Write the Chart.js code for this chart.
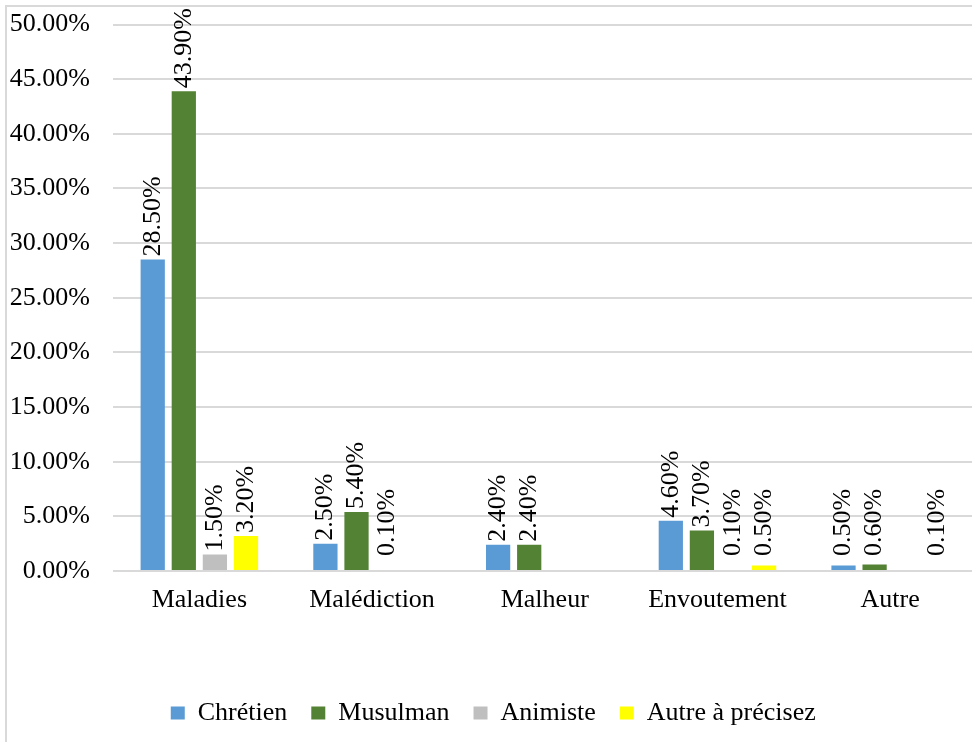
<!DOCTYPE html>
<html>
<head>
<meta charset="utf-8">
<script src="https://cdn.jsdelivr.net/npm/chart.js@4.4.0/dist/chart.umd.min.js"></script>
<style>
    html, body { margin: 0; padding: 0; background: #fff; overflow: hidden; }
    .frame { position: absolute; left: 5px; top: 5px; width: 990px; height: 760px; border-left: 2px solid #d9d9d9; border-top: 2px solid #d9d9d9; }
    canvas { position: absolute; left: 0; top: 0; }
</style>
</head>
<body>
<div class="frame"></div>
<canvas id="myChart" width="980" height="742"></canvas>
<script>
let categories = ['Maladies', 'Malédiction', 'Malheur', 'Envoutement', 'Autre']
let seriesNames = ['Chrétien', 'Musulman', 'Animiste', 'Autre à précisez']
let chretien = [28.5, 2.5, 2.4, 4.6, 0.5]
let musulman = [43.9, 5.4, 2.4, 3.7, 0.6]
let animiste = [1.5, 0.1, null, 0.1, null]
let autrePrecisez = [3.2, null, null, 0.5, 0.1]
let yMin = 0
let yMax = 50
let yStep = 5

let colors = ['#5b9bd5', '#548235', '#bfbfbf', '#ffff00']
let serif = '"Liberation Serif", "Times New Roman", serif'

Chart.defaults.font.family = serif
Chart.defaults.font.size = 26
Chart.defaults.color = '#000'

function pct(v) {
    return Number(v).toFixed(2) + '%'
}

// rotated value labels above each bar
const barLabels = {
    id: 'barLabels',
    afterDatasetsDraw(chart) {
        const ctx = chart.ctx
        ctx.save()
        ctx.font = '26px ' + serif
        ctx.fillStyle = '#000'
        ctx.textAlign = 'left'
        ctx.textBaseline = 'middle'
        chart.data.datasets.forEach((ds, i) => {
            const meta = chart.getDatasetMeta(i)
            meta.data.forEach((bar, j) => {
                const v = ds.data[j]
                if (v === null || v === undefined) return
                let y = Math.min(bar.y - 3, chart.chartArea.bottom - 15)
                ctx.save()
                ctx.translate(bar.x, y)
                ctx.rotate(-Math.PI / 2)
                ctx.fillText(pct(v), 0, 0)
                ctx.restore()
            })
        })
        ctx.restore()
    }
}

let ctx = document.getElementById('myChart').getContext('2d')
let myChart = new Chart(ctx, {
    type: 'bar',
    data: {
        labels: categories,
        datasets: [
            { label: seriesNames[0], data: chretien, backgroundColor: colors[0] },
            { label: seriesNames[1], data: musulman, backgroundColor: colors[1] },
            { label: seriesNames[2], data: animiste, backgroundColor: colors[2] },
            { label: seriesNames[3], data: autrePrecisez, backgroundColor: colors[3] }
        ]
    },
    options: {
        responsive: false,
        animation: false,
        categoryPercentage: 0.72,
        barPercentage: 0.78,
        layout: {
            padding: { left: 10, right: 3.5, top: 24.5, bottom: 6 }
        },
        plugins: {
            legend: {
                position: 'bottom',
                labels: {
                    boxWidth: 14,
                    boxHeight: 13,
                    padding: 24,
                    color: '#000',
                    font: { size: 26 }
                }
            },
            tooltip: { enabled: false }
        },
        scales: {
            x: {
                grid: { display: false },
                border: { display: false },
                ticks: { padding: 6, color: '#000' },
                afterFit(scale) {
                    scale.height = 105
                }
            },
            y: {
                min: yMin,
                max: yMax,
                grid: { color: '#d9d9d9', lineWidth: 2, drawTicks: false },
                border: { display: false },
                ticks: {
                    stepSize: yStep,
                    padding: 23,
                    color: '#000',
                    callback: v => pct(v)
                },
                afterFit(scale) {
                    scale.width = 103
                    scale.paddingTop = 0
                    scale.paddingBottom = 0
                }
            }
        }
    },
    plugins: [barLabels]
})
</script>
</body>
</html>
